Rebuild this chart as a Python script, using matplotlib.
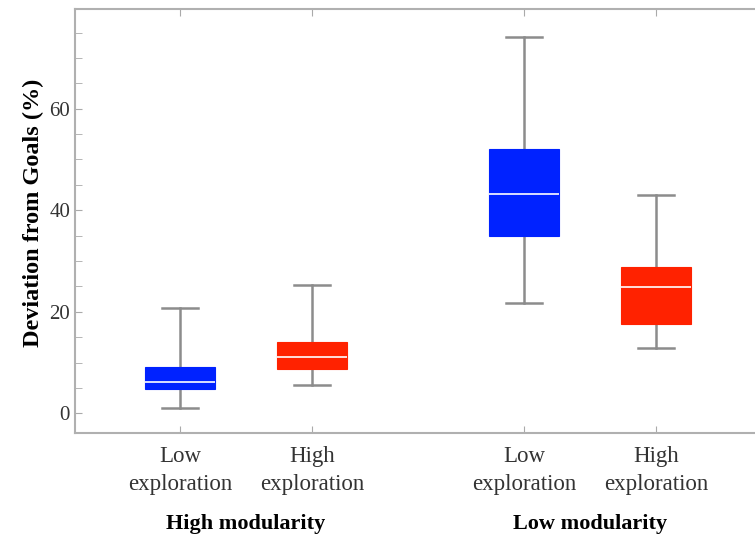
import matplotlib
matplotlib.use('Agg')
import matplotlib.pyplot as plt
from matplotlib.ticker import MultipleLocator

# box statistics (%)
labels = ['Low\nexploration', 'High\nexploration', 'Low\nexploration', 'High\nexploration']
groups = ['High modularity', 'Low modularity']
whislo = [1.1, 5.6, 21.8, 12.8]
q1 = [4.8, 8.7, 35.0, 17.5]
med = [6.2, 11.0, 43.1, 24.8]
q3 = [9.05, 14.1, 52.1, 28.8]
whishi = [20.7, 25.2, 74.2, 42.9]
colors = ['#0022ff', '#ff2200', '#0022ff', '#ff2200']
positions = [1, 2, 3.61, 4.61]

plt.rcParams['font.family'] = ['Liberation Serif', 'DejaVu Serif']

fig = plt.figure(figsize=(7.55, 5.38), dpi=100)
ax = fig.add_axes([0.0993, 0.195, 0.9007, 0.788])

stats = []
for i in range(len(labels)):
    stats.append({'whislo': whislo[i], 'q1': q1[i], 'med': med[i],
                  'q3': q3[i], 'whishi': whishi[i], 'fliers': []})

bp = ax.bxp(stats, positions=positions, widths=0.53, patch_artist=True,
            showfliers=False,
            medianprops=dict(color='white', linewidth=1.2),
            whiskerprops=dict(color='#8c8c8c', linewidth=1.8),
            capprops=dict(color='#8c8c8c', linewidth=1.8),
            boxprops=dict(linewidth=0.8), capwidths=0.27)
for patch, c in zip(bp['boxes'], colors):
    patch.set_facecolor(c)
    patch.set_edgecolor(c)
    patch.set_zorder(3)
for m in bp['medians']:
    m.set_zorder(4)

ax.set_xlim(0.205, 5.36)
ax.set_ylim(-3.9, 79.6)
ax.set_xticks(positions)
ax.set_xticklabels(labels, fontsize=16.5, color='#333333', linespacing=1.45)
ax.set_yticks([0, 20, 40, 60])
ax.yaxis.set_minor_locator(MultipleLocator(5))
ax.tick_params(axis='both', which='both', direction='in', colors='#aaaaaa',
               labelcolor='#333333', top=True, length=5)
ax.tick_params(axis='y', labelsize=15)
ax.tick_params(axis='x', pad=9)
ax.spines['right'].set_visible(False)
for s in ['left', 'bottom', 'top']:
    ax.spines[s].set_color('#b0b0b0')
    ax.spines[s].set_linewidth(1.5)

ax.set_ylabel('Deviation from Goals (%)', fontsize=17.5, fontweight='bold')
ax.yaxis.set_label_coords(-0.045, 0.52)

for g, x in zip(groups, [1.5, 4.11]):
    ax.text(x, -0.214, g, transform=ax.get_xaxis_transform(), ha='center', va='center',
            fontsize=16, fontweight='bold')

plt.savefig('out.png', dpi=100)
